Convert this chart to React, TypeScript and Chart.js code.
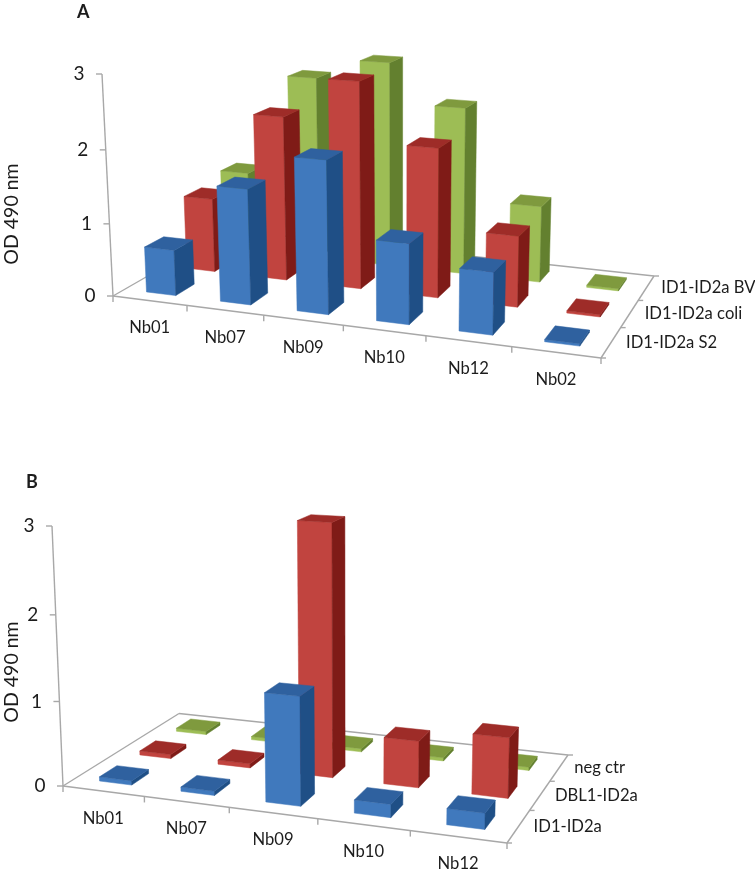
import React, { useEffect, useRef } from "react";
import { Chart, BarController, BarElement, CategoryScale, LinearScale } from "chart.js";

// ---------- data ----------
const categoriesA = ["Nb01", "Nb07", "Nb09", "Nb10", "Nb12", "Nb02"];
const s2ValuesA = [0.63, 1.57, 2.05, 1.07, 0.82, 0.03];
const coliValuesA = [1.05, 2.3, 2.86, 2.05, 0.97, 0.03];
const bvValuesA = [1.16, 2.64, 2.93, 2.37, 1.08, 0.03];
const seriesNamesA = ["ID1-ID2a S2", "ID1-ID2a coli", "ID1-ID2a BV"];

const categoriesB = ["Nb01", "Nb07", "Nb09", "Nb10", "Nb12"];
const id1ValuesB = [0.05, 0.05, 1.25, 0.15, 0.18];
const dblValuesB = [0.05, 0.05, 2.98, 0.55, 0.7];
const negValuesB = [0.04, 0.04, 0.04, 0.04, 0.04];
const seriesNamesB = ["ID1-ID2a", "DBL1-ID2a", "neg ctr"];

const yTicks = [0, 1, 2, 3];
const yTitle = "OD 490 nm";

const FONT = "Lato, 'Open Sans', sans-serif";
const AXIS = "#a8a8a8";
const TEXT = "#1c1c1c";
const PALETTE = [
  { front: "#4079bd", side: "#1f4f86", top: "#2f619f" },
  { front: "#c1443f", side: "#7f1b17", top: "#9e2c28" },
  { front: "#9dbd55", side: "#63802f", top: "#7f9a3e" },
];

type Pt = [number, number];
interface Camera { fl: Pt; fr: Pt; br: Pt; bl: Pt; axisTop: Pt; vx: number; barW: number; barD: number }

function makeProjector(cam: Camera) {
  const [x0, y0] = cam.fl, [x1, y1] = cam.fr, [x2, y2] = cam.br, [x3, y3] = cam.bl;
  const dx1 = x1 - x2, dx2 = x3 - x2, sx = x0 - x1 + x2 - x3;
  const dy1 = y1 - y2, dy2 = y3 - y2, sy = y0 - y1 + y2 - y3;
  const den = dx1 * dy2 - dx2 * dy1;
  const g = (sx * dy2 - dx2 * sy) / den, h = (dx1 * sy - sx * dy1) / den;
  const a = x1 - x0 + g * x1, b = x3 - x0 + h * x3, c = x0;
  const d = y1 - y0 + g * y1, e = y3 - y0 + h * y3, f = y0;
  const s = (cam.axisTop[0] - x0) / (cam.vx - cam.axisTop[0]);
  const vy = (cam.axisTop[1] * (1 + s) - y0) / s;
  return (u: number, v: number, k: number): Pt => {
    const w = g * u + h * v + 1 + k * s;
    return [(a * u + b * v + c + k * s * cam.vx) / w, (d * u + e * v + f + k * s * vy) / w];
  };
}

function poly(ctx: CanvasRenderingContext2D, pts: Pt[], fill: string) {
  ctx.beginPath();
  pts.forEach((p, i) => (i ? ctx.lineTo(p[0], p[1]) : ctx.moveTo(p[0], p[1])));
  ctx.closePath();
  ctx.fillStyle = fill;
  ctx.strokeStyle = fill;
  ctx.lineWidth = 0.5;
  ctx.fill();
  ctx.stroke();
}

// Fractions along each of the chart's own scales
function fractions(chart: any) {
  const { x, depth, y } = chart.scales;
  const ca = chart.chartArea;
  return {
    u: (i: number) => (x.getPixelForValue(i) - ca.left) / ca.width,
    uEdge: (i: number) => i / x.getLabels().length,
    v: (i: number) => (depth.getPixelForValue(i) - ca.left) / ca.width,
    vEdge: (i: number) => i / depth.getLabels().length,
    k: (val: number) => (y.bottom - y.getPixelForValue(val)) / (y.bottom - y.top),
    nu: x.getLabels().length,
    nv: depth.getLabels().length,
  };
}

class Bar3DController extends BarController {
  static id = "bar3d";
  draw() {
    const chart: any = this.chart;
    const cam: Camera = chart.options.plugins.scene3d.camera;
    const P = makeProjector(cam);
    const fr = fractions(chart);
    const meta: any = this.getMeta();
    const colors = PALETTE[this.index];
    const hu = cam.barW / fr.nu / 2, hv = cam.barD / fr.nv / 2;
    const v = fr.v(this.index);
    meta.data.forEach((_: any, i: number) => {
      const val = (this.getParsed(i) as any).y;
      const u = fr.u(i), k = fr.k(val);
      const a: Pt = P(u - hu, v - hv, 0), b = P(u + hu, v - hv, 0), c = P(u + hu, v + hv, 0);
      const at = P(u - hu, v - hv, k), bt = P(u + hu, v - hv, k), ct = P(u + hu, v + hv, k), dt = P(u - hu, v + hv, k);
      poly(chart.ctx, [a, b, bt, at], colors.front);
      poly(chart.ctx, [b, c, ct, bt], colors.side);
      poly(chart.ctx, [at, bt, ct, dt], colors.top);
    });
  }
}

const scene3d = {
  id: "scene3d",
  beforeDatasetsDraw(chart: any, _args: any, opts: any) {
    const cam: Camera = opts.camera;
    const P = makeProjector(cam);
    const fr = fractions(chart);
    const ctx: CanvasRenderingContext2D = chart.ctx;
    const seg = (p: Pt, q: Pt) => {
      ctx.beginPath();
      ctx.moveTo(p[0], p[1]);
      ctx.lineTo(q[0], q[1]);
      ctx.stroke();
    };
    ctx.save();
    ctx.strokeStyle = AXIS;
    ctx.lineWidth = 1.4;
    seg(P(0, 0, 0), P(0, 1, 0));
    seg(P(0, 1, 0), P(1, 1, 0));
    seg(P(1, 1, 0), P(1, 0, 0));
    seg(P(0, 0, 0), P(1, 0, 0));
    seg(P(0, 0, 0), P(0, 0, 1));
    ctx.fillStyle = TEXT;
    ctx.textBaseline = "middle";
    ctx.font = `19px ${FONT}`;
    ctx.textAlign = "center";
    yTicks.forEach((t) => {
      const p = P(0, 0, fr.k(t));
      seg([p[0] - 6, p[1]], p);
      ctx.fillText(String(t), p[0] - 23, p[1]);
    });
    ctx.font = `16.6px ${FONT}`;
    const cats: string[] = chart.scales.x.getLabels();
    for (let i = 0; i <= fr.nu; i++) {
      const p = P(fr.uEdge(i), 0, 0);
      seg(p, [p[0], p[1] + 6]);
    }
    cats.forEach((lab, i) => {
      const p = P(fr.u(i), 0, 0);
      ctx.fillText(lab, p[0], p[1] + 27);
    });
    const ser: string[] = chart.scales.depth.getLabels();
    for (let j = 0; j <= fr.nv; j++) {
      const p = P(1, fr.vEdge(j), 0);
      seg(p, [p[0] + 5, p[1]]);
    }
    ctx.textAlign = "left";
    ser.forEach((lab, j) => {
      const p = P(1, fr.v(j), 0);
      ctx.fillText(lab, p[0] + 15, p[1]);
    });
    ctx.font = `bold 18px ${FONT}`;
    ctx.fillText(opts.letter, opts.letterAt[0], opts.letterAt[1]);
    ctx.font = `19.5px ${FONT}`;
    ctx.translate(opts.titleAt[0], opts.titleAt[1]);
    ctx.rotate(-Math.PI / 2);
    ctx.textAlign = "center";
    ctx.fillText(yTitle, 0, 0);
    ctx.restore();
  },
};

Chart.register(BarController, Bar3DController as any, BarElement, CategoryScale, LinearScale);

function Panel(props: {
  height: number;
  labels: string[];
  seriesNames: string[];
  values: number[][];
  camera: Camera;
  letter: string;
  letterAt: Pt;
  titleAt: Pt;
}) {
  const ref = useRef<HTMLCanvasElement>(null);
  useEffect(() => {
    const chart = new Chart(ref.current as HTMLCanvasElement, {
      type: "bar3d" as any,
      data: {
        labels: props.labels,
        datasets: props.values.map((data, i) => ({
          label: props.seriesNames[i],
          data,
          backgroundColor: PALETTE[i].front,
          clip: false,
        })),
      },
      options: {
        animation: false,
        responsive: false,
        devicePixelRatio: 1,
        events: [],
        layout: { padding: 0 },
        scales: {
          x: { type: "category", offset: true, display: false },
          depth: { type: "category", axis: "x", labels: props.seriesNames, offset: true, display: false, position: "top" },
          y: { type: "linear", min: 0, max: 3, display: false },
        },
        plugins: {
          scene3d: { camera: props.camera, letter: props.letter, letterAt: props.letterAt, titleAt: props.titleAt },
        },
      } as any,
      plugins: [scene3d],
    } as any);
    return () => chart.destroy();
  }, []);
  return <canvas ref={ref} width={755} height={props.height} style={{ display: "block", width: 755, height: props.height }} />;
}

const topB = 420;
const shift = (p: Pt): Pt => [p[0], p[1] - topB];

export default function App() {
  return (
    <div style={{ position: "absolute", left: 0, top: 0, width: 755, height: 874, background: "#fff" }}>
      <Panel
        height={topB}
        labels={categoriesA}
        seriesNames={seriesNamesA}
        values={[s2ValuesA, coliValuesA, bvValuesA]}
        camera={{ fl: [113, 296], fr: [601, 358], br: [654, 276], bl: [228, 230], axisTop: [102, 74], vx: 400, barW: 0.4, barD: 0.46 }}
        letter="A"
        letterAt={[77, 12]}
        titleAt={[12, 214]}
      />
      <Panel
        height={874 - topB}
        labels={categoriesB}
        seriesNames={seriesNamesB}
        values={[id1ValuesB, dblValuesB, negValuesB]}
        camera={{
          fl: shift([63, 786]), fr: shift([507, 843]), br: shift([568, 755]), bl: shift([179, 713.5]),
          axisTop: shift([52, 526]), vx: 350, barW: 0.4, barD: 0.42,
        }}
        letter="B"
        letterAt={[26, 482 - topB]}
        titleAt={[12, 672 - topB]}
      />
    </div>
  );
}
